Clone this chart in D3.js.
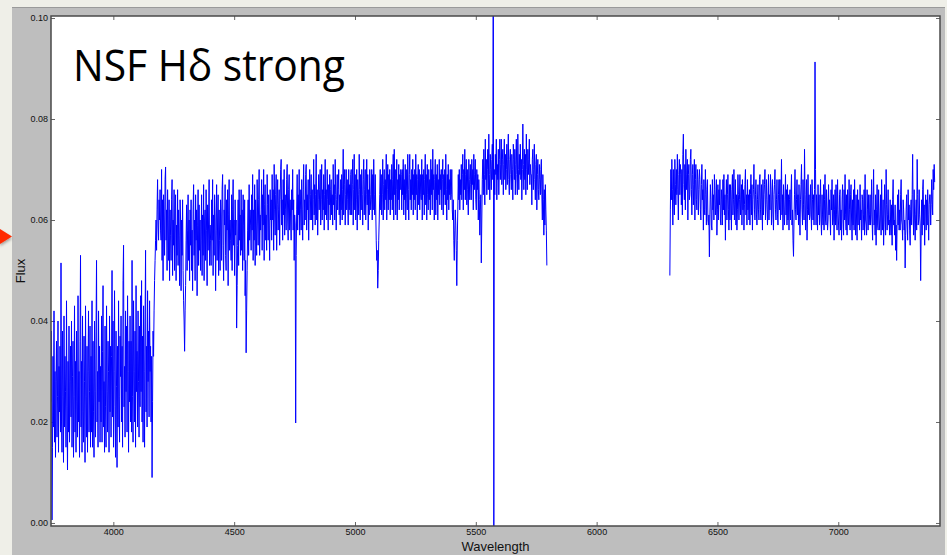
<!DOCTYPE html>
<html>
<head>
<meta charset="utf-8">
<script src="https://cdn.jsdelivr.net/npm/d3@7/dist/d3.min.js"></script>
<style>
  html, body { margin: 0; padding: 0; background: #efefe8; }
  #chart { width: 947px; height: 555px; }
</style>
</head>
<body>
<div id="chart"></div>
<script>
// wavelength ranges covered by the two pieces of the spectrum (Angstrom)
var blueRange = [3742, 5794];
var redRange = [6303, 7399];

// flux in units of 1e-4 left to right
var blueFlux = [
  240, 380, 6, 150, 330, 190, 420, 160, 300, 130, 280, 360, 170, 250, 400, 140, 310, 220, 350, 180,
  515, 200, 140, 380, 250, 120, 410, 190, 330, 260, 150, 440, 230, 105, 320, 180, 390, 160, 280, 350,
  210, 400, 150, 290, 360, 130, 250, 430, 180, 320, 140, 380, 240, 170, 450, 200, 300, 130, 360, 530,
  190, 320, 140, 410, 220, 160, 370, 280, 120, 430, 250, 170, 350, 140, 300, 420, 180, 260, 390, 150,
  330, 180, 440, 150, 360, 220, 130, 400, 260, 170, 380, 520, 200, 300, 150, 420, 240, 350, 160, 310,
  200, 410, 160, 340, 470, 190, 280, 140, 390, 230, 150, 430, 260, 180, 360, 300, 140, 410, 220, 350,
  170, 330, 500, 210, 400, 150, 300, 460, 230, 130, 380, 270, 110, 350, 190, 440, 250, 160, 370, 290,
  410, 200, 350, 150, 480, 550, 230, 310, 170, 420, 260, 390, 180, 450, 300, 140, 360, 240, 410, 200,
  360, 180, 520, 250, 160, 440, 300, 200, 380, 150, 470, 260, 340, 190, 420, 280, 170, 390, 230, 450,
  260, 480, 200, 370, 160, 430, 300, 150, 400, 540, 220, 350, 190, 460, 280, 380, 210, 440, 300, 350,
  200, 330, 90, 240, 380, 330, 420, 480, 520, 560, 600, 540, 620, 680, 590, 560, 640, 600, 660, 580,
  560, 700, 520, 640, 480, 650, 600, 530, 680, 705, 560, 620, 500, 660, 590, 520, 640, 480, 620, 570,
  520, 640, 680, 490, 600, 550, 660, 500, 620, 650, 480, 590, 530, 660, 510, 620, 570, 470, 640, 600,
  460, 600, 530, 640, 500, 440, 400, 340, 420, 470, 560, 630, 500, 580, 650, 520, 600, 480, 620, 550,
  640, 500, 580, 460, 620, 670, 530, 600, 480, 650, 560, 620, 450, 590, 660, 510, 630, 540, 600, 500,
  560, 650, 490, 610, 530, 670, 480, 600, 620, 520, 660, 580, 470, 630, 540, 600, 680, 510, 590, 560,
  510, 640, 560, 680, 490, 610, 530, 650, 600, 460, 580, 670, 520, 600, 650, 490, 620, 560, 500, 640,
  610, 520, 660, 690, 550, 480, 620, 590, 670, 530, 500, 640, 580, 660, 470, 610, 680, 540, 600, 560,
  520, 650, 500, 620, 680, 550, 600, 490, 640, 570, 600, 386, 470, 550, 640, 510, 660, 560, 610, 530,
  660, 540, 620, 500, 650, 590, 520, 640, 450, 520, 337, 420, 500, 580, 640, 530, 670, 560, 620, 590,
  540, 650, 580, 690, 520, 620, 560, 670, 510, 640, 590, 530, 680, 600, 550, 640, 700, 530, 610, 580,
  620, 680, 540, 650, 590, 700, 520, 630, 670, 560, 610, 540, 690, 630, 560, 650, 590, 520, 660, 600,
  640, 560, 690, 600, 660, 540, 710, 620, 570, 650, 690, 540, 630, 680, 580, 620, 660, 550, 640, 700,
  720, 590, 640, 560, 680, 610, 700, 570, 650, 620, 580, 680, 710, 600, 560, 660, 690, 580, 640, 600,
  560, 660, 620, 700, 580, 640, 520, 610, 590, 198, 530, 620, 690, 580, 650, 610, 700, 570, 660, 620,
  580, 680, 620, 560, 660, 710, 590, 640, 600, 690, 710, 580, 650, 620, 680, 560, 640, 700, 600, 650,
  690, 600, 660, 580, 640, 720, 610, 670, 590, 650, 730, 600, 660, 570, 640, 690, 620, 660, 700, 590,
  640, 710, 600, 660, 620, 690, 580, 650, 720, 610, 660, 600, 700, 640, 580, 670, 630, 690, 600, 660,
  680, 610, 650, 590, 710, 630, 670, 600, 720, 650, 580, 640, 690, 620, 660, 700, 610, 650, 590, 680,
  620, 690, 600, 660, 740, 610, 670, 700, 590, 650, 700, 620, 680, 640, 590, 700, 620, 670, 610, 690,
  700, 610, 670, 720, 590, 660, 730, 620, 690, 600, 640, 700, 580, 680, 650, 610, 730, 660, 600, 690,
  620, 700, 650, 590, 680, 720, 610, 660, 700, 600, 650, 720, 630, 690, 580, 660, 610, 700, 650, 620,
  640, 700, 600, 690, 620, 720, 650, 610, 690, 620, 560, 520, 540, 465, 500, 560, 600, 650, 700, 620,
  690, 610, 650, 720, 600, 670, 700, 620, 680, 640, 730, 600, 660, 710, 620, 690, 640, 700, 610, 680,
  640, 710, 620, 680, 730, 600, 740, 650, 700, 610, 660, 720, 600, 680, 640, 710, 620, 690, 660, 700,
  690, 620, 700, 650, 720, 610, 680, 640, 710, 600, 700, 650, 620, 730, 660, 600, 690, 730, 640, 680,
  620, 700, 650, 720, 610, 690, 640, 700, 620, 730, 650, 690, 600, 680, 710, 630, 700, 620, 690, 650,
  640, 720, 600, 690, 650, 700, 610, 680, 730, 630, 690, 600, 710, 650, 620, 700, 640, 680, 610, 720,
  650, 700, 620, 740, 660, 690, 600, 680, 720, 610, 690, 640, 710, 600, 680, 650, 720, 630, 690, 660,
  700, 620, 680, 720, 610, 690, 650, 700, 630, 730, 660, 600, 690, 640, 710, 620, 680, 650, 700, 640,
  650, 700, 620, 600, 640, 560, 520, 580, 620, 590, 540, 470, 560, 620, 690, 640, 700, 620, 680, 650,
  710, 640, 690, 730, 620, 700, 660, 740, 640, 690, 720, 630, 700, 660, 610, 720, 680, 640, 710, 670,
  640, 720, 670, 700, 620, 730, 660, 690, 720, 640, 620, 700, 660, 690, 600, 680, 640, 570, 620, 650,
  515, 600, 680, 720, 650, 740, 690, 630, 760, 680, 720, 650, 700, 740, 660, 770, 690, 640, 730, 700,
  660, 720, 750, 680, 1300, -100, 700, 650, 730, 690, 760, 640, 710, 680, 740, 650, 720, 760, 680, 710,
  760, 670, 720, 740, 650, 710, 760, 680, 730, 660, 700, 750, 670, 720, 770, 680, 650, 720, 740, 690,
  660, 730, 700, 640, 750, 720, 680, 740, 650, 710, 760, 690, 650, 770, 700, 660, 730, 690, 750, 680,
  720, 640, 700, 790, 710, 660, 740, 680, 730, 650, 770, 700, 660, 740, 690, 720, 760, 670, 710, 690,
  690, 630, 720, 740, 660, 700, 750, 680, 640, 710, 730, 620, 690, 720, 660, 640, 710, 680, 650, 700,
  720, 650, 600, 690, 640, 570, 660, 590, 670, 620, 580, 510
];

var redFlux = [
  490, 620, 700, 640, 720, 660, 590, 700, 640, 610, 720, 670, 630, 700, 650, 730, 660, 600, 690, 720,
  650, 710, 690, 630, 700, 610, 730, 770, 670, 640, 710, 620, 740, 660, 690, 720, 600, 690, 710, 640,
  650, 720, 740, 660, 610, 690, 710, 630, 670, 720, 600, 680, 710, 640, 620, 700, 680, 610, 660, 700,
  680, 620, 600, 670, 710, 640, 660, 580, 680, 620, 610, 700, 650, 590, 660, 680, 600, 590, 610, 527,
  610, 670, 640, 590, 580, 680, 620, 650, 600, 690, 660, 610, 630, 680, 570, 620, 670, 600, 660, 630,
  680, 600, 590, 660, 640, 590, 680, 620, 690, 610, 650, 560, 640, 680, 600, 650, 690, 620, 580, 670,
  600, 670, 640, 580, 660, 690, 610, 640, 700, 600, 630, 680, 590, 650, 580, 620, 690, 650, 600, 640,
  690, 610, 640, 670, 590, 680, 620, 660, 580, 630, 670, 700, 610, 650, 590, 680, 620, 650, 600, 660,
  590, 650, 690, 610, 670, 580, 640, 660, 710, 620, 600, 650, 680, 610, 590, 640, 670, 620, 600, 680,
  690, 620, 600, 670, 640, 580, 680, 610, 650, 670, 700, 600, 630, 680, 640, 590, 620, 690, 600, 650,
  620, 690, 660, 590, 640, 680, 610, 580, 650, 670, 700, 620, 600, 640, 680, 610, 590, 650, 680, 620,
  680, 600, 640, 720, 610, 650, 580, 670, 620, 590, 640, 690, 610, 660, 590, 670, 600, 650, 580, 640,
  660, 600, 650, 690, 590, 620, 560, 528, 600, 650, 700, 620, 600, 640, 680, 610, 650, 590, 670, 610,
  570, 640, 670, 710, 620, 590, 680, 630, 600, 740, 650, 580, 640, 680, 560, 620, 690, 610, 650, 600,
  610, 670, 620, 580, 680, 640, 600, 650, 590, 660, 913, 700, 590, 650, 620, 580, 670, 610, 650, 590,
  630, 680, 600, 570, 650, 610, 590, 670, 580, 640, 690, 600, 590, 660, 620, 580, 600, 670, 610, 640,
  610, 570, 660, 620, 680, 590, 600, 650, 560, 620, 660, 590, 670, 610, 580, 680, 620, 590, 570, 650,
  660, 580, 620, 560, 640, 670, 600, 570, 660, 600, 690, 610, 580, 650, 570, 660, 610, 590, 680, 620,
  580, 650, 670, 600, 560, 640, 590, 660, 580, 680, 620, 570, 650, 600, 560, 660, 590, 640, 620, 580,
  670, 600, 620, 560, 650, 640, 580, 610, 660, 570, 690, 600, 590, 570, 660, 620, 580, 650, 590, 610,
  650, 590, 610, 680, 600, 560, 640, 700, 590, 620, 570, 650, 550, 620, 670, 590, 580, 660, 610, 580,
  600, 650, 570, 680, 610, 580, 640, 550, 600, 670, 620, 570, 700, 630, 580, 610, 660, 590, 600, 570,
  640, 590, 570, 630, 550, 640, 680, 590, 600, 570, 630, 540, 590, 520, 600, 650, 590, 660, 580, 620,
  580, 650, 680, 600, 590, 560, 640, 620, 580, 600, 505, 570, 620, 650, 590, 560, 660, 600, 630, 580,
  550, 620, 640, 590, 650, 730, 610, 570, 660, 600, 560, 610, 640, 580, 720, 650, 590, 600, 660, 610,
  590, 480, 580, 640, 570, 660, 680, 590, 630, 550, 620, 650, 580, 640, 590, 660, 610, 560, 630, 650,
  650, 590, 630, 680, 640, 610, 700, 660, 710, 675
];

var xTicks = [4000, 4500, 5000, 5500, 6000, 6500, 7000];
var yTicks = [0.00, 0.02, 0.04, 0.06, 0.08, 0.10];
var titleText = 'NSF H\u03b4 strong';

var Spectrum = function(element, opts){
	this.element = element;
	this.width = opts.width || 947;
	this.height = opts.height || 555;
	this.plot = opts.plot || {left: 51, top: 16, right: 940, bottom: 526};
	this.xDomain = opts.xDomain;
	this.yDomain = opts.yDomain;
	this.pieces = opts.pieces || [];
};

Spectrum.prototype.init = function(){
	this.svg = d3.select(this.element).append('svg')
		.attr('width', this.width)
		.attr('height', this.height)
		.style('display', 'block');

	this.drawBackground();
	this.createScales();
	this.createAxes();
	this.drawLines();
	this.drawFrame();
	this.drawLabels();
};

Spectrum.prototype.drawBackground = function(){
	var p = this.plot;
	this.svg.append('rect')
		.attr('width', this.width).attr('height', this.height)
		.attr('fill', '#efefe8');
	// grey figure panel
	this.svg.append('rect')
		.attr('x', 12).attr('y', 7)
		.attr('width', 933).attr('height', this.height - 7)
		.attr('fill', '#bebebe');
	this.svg.append('line')
		.attr('x1', 12).attr('x2', 945).attr('y1', 7.5).attr('y2', 7.5)
		.attr('stroke', '#9a9a9a');
	this.svg.append('rect')
		.attr('x', p.left).attr('y', p.top)
		.attr('width', p.right - p.left).attr('height', p.bottom - p.top)
		.attr('fill', '#ffffff');

	// red slide arrow on the left edge
	var defs = this.svg.append('defs');
	var f = defs.append('filter').attr('id', 'shadow').attr('x', '-50%').attr('y', '-50%').attr('width', '200%').attr('height', '200%');
	f.append('feDropShadow').attr('dx', 0).attr('dy', 2).attr('stdDeviation', 1.5).attr('flood-color', '#000').attr('flood-opacity', 0.35);
	this.svg.append('path')
		.attr('d', 'M0,229L12,236.5L0,244Z')
		.attr('fill', '#ff2a00')
		.attr('filter', 'url(#shadow)');

	defs.append('clipPath').attr('id', 'plot-clip')
		.append('rect')
		.attr('x', p.left).attr('y', p.top)
		.attr('width', p.right - p.left).attr('height', p.bottom - p.top);
};

Spectrum.prototype.createScales = function(){
	var p = this.plot;
	this.x = d3.scaleLinear().domain(this.xDomain).range([p.left, p.right]);
	this.y = d3.scaleLinear().domain(this.yDomain).range([p.bottom, p.top]);
};

Spectrum.prototype.createAxes = function(){
	var p = this.plot;

	var styleAxis = function(g){
		g.select('.domain').remove();
		g.selectAll('.tick line').attr('stroke', '#666');
		g.selectAll('.tick text')
			.attr('fill', '#111')
			.style('font-family', '"Liberation Sans", Arial, sans-serif')
			.style('font-size', '9px');
	};

	this.svg.append('g')
		.attr('transform', 'translate(0,' + p.bottom + ')')
		.call(d3.axisBottom(this.x).tickValues(xTicks).tickFormat(d3.format('d'))
			.tickSizeInner(-4).tickSizeOuter(0).tickPadding(3))
		.call(styleAxis);

	this.svg.append('g')
		.attr('transform', 'translate(0,' + p.top + ')')
		.call(d3.axisTop(this.x).tickValues(xTicks).tickFormat('')
			.tickSizeInner(-4).tickSizeOuter(0))
		.call(styleAxis);

	this.svg.append('g')
		.attr('transform', 'translate(' + p.left + ',0)')
		.call(d3.axisLeft(this.y).tickValues(yTicks).tickFormat(d3.format('.2f'))
			.tickSizeInner(-4).tickSizeOuter(0).tickPadding(3))
		.call(styleAxis);

	this.svg.append('g')
		.attr('transform', 'translate(' + p.right + ',0)')
		.call(d3.axisRight(this.y).tickValues(yTicks).tickFormat('')
			.tickSizeInner(-4).tickSizeOuter(0))
		.call(styleAxis);
};

Spectrum.prototype.drawLines = function(){
	var _this = this;
	var line = d3.line()
		.x(function(d) { return _this.x(d.wave); })
		.y(function(d) { return _this.y(d.flux); });

	var g = this.svg.append('g').attr('clip-path', 'url(#plot-clip)');

	this.pieces.forEach(function(piece){
		// spread the samples evenly over the piece's wavelength range
		var idx = d3.scaleLinear().domain([0, piece.flux.length - 1]).range(piece.range);
		var points = piece.flux.map(function(v, i){
			return {wave: idx(i), flux: v / 10000};
		});
		g.append('path')
			.datum(points)
			.attr('d', line)
			.attr('fill', 'none')
			.attr('stroke', '#0000ff')
			.attr('stroke-width', 1);
	});
};

Spectrum.prototype.drawFrame = function(){
	var p = this.plot;
	this.svg.append('rect')
		.attr('x', p.left).attr('y', p.top)
		.attr('width', p.right - p.left).attr('height', p.bottom - p.top)
		.attr('fill', 'none')
		.attr('stroke', '#4a4a4a')
		.attr('stroke-width', 1.5);
};

Spectrum.prototype.drawLabels = function(){
	var p = this.plot;
	this.svg.append('text')
		.attr('x', (p.left + p.right) / 2)
		.attr('y', 551)
		.attr('text-anchor', 'middle')
		.style('font-family', '"Liberation Sans", Arial, sans-serif')
		.style('font-size', '13px')
		.attr('fill', '#111')
		.text('Wavelength');

	this.svg.append('text')
		.attr('transform', 'translate(25,' + ((p.top + p.bottom) / 2) + ') rotate(-90)')
		.attr('text-anchor', 'middle')
		.style('font-family', '"Liberation Sans", Arial, sans-serif')
		.style('font-size', '13px')
		.attr('fill', '#111')
		.text('Flux');

	this.svg.append('text')
		.attr('x', 73)
		.attr('y', 81)
		.attr('textLength', 272)
		.attr('lengthAdjust', 'spacingAndGlyphs')
		.style('font-family', '"Open Sans", "Noto Sans", sans-serif')
		.style('font-size', '43px')
		.attr('fill', '#000')
		.text(titleText);
};

var chart = new Spectrum('#chart', {
	xDomain: [3742, 7421],
	yDomain: [-0.0006, 0.1004],
	pieces: [
		{range: blueRange, flux: blueFlux},
		{range: redRange, flux: redFlux}
	]
});
chart.init();
</script>
</body>
</html>
